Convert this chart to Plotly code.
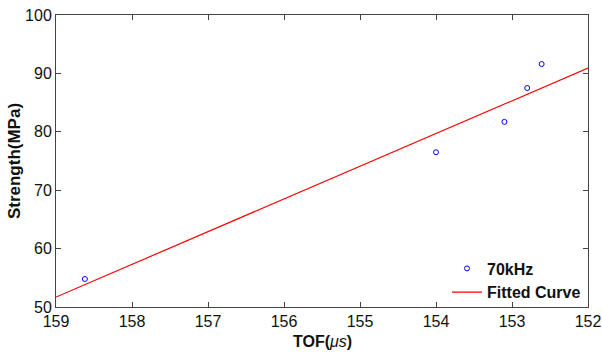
import plotly.graph_objects as go

# Measured data (70 kHz)
tof = [158.62, 154.0, 153.10, 152.80, 152.61]
strength = [54.8, 76.5, 81.7, 87.5, 91.6]

# Fitted line endpoints
fit_tof = [159, 152]
fit_strength = [51.7, 90.9]

x_ticks = [159, 158, 157, 156, 155, 154, 153, 152]
y_ticks = [50, 60, 70, 80, 90, 100]

FONT = "Liberation Sans, Arial, sans-serif"

fig = go.Figure()
fig.add_trace(go.Scatter(
    x=tof, y=strength, mode="markers", name="<b>70kHz</b>",
    marker=dict(symbol="circle-open", size=5, color="#0000ff", line=dict(width=1, color="#0000ff")),
))
fig.add_trace(go.Scatter(
    x=fit_tof, y=fit_strength, mode="lines", name="<b>Fitted Curve</b>",
    line=dict(color="#ff0000", width=1.2),
))

axis_common = dict(
    showgrid=False, zeroline=False, showline=True, linecolor="#444444", linewidth=1,
    mirror="ticks", ticks="inside", ticklen=5, tickcolor="#444444", automargin=False,
    tickfont=dict(family=FONT, size=16, color="#111111"),
)

fig.update_layout(
    width=602, height=354,
    margin=dict(l=56, r=14, t=15, b=47, autoexpand=False),
    paper_bgcolor="white", plot_bgcolor="white",
    xaxis=dict(range=[159, 152], tickvals=x_ticks, ticktext=[str(v) for v in x_ticks],
               **axis_common),
    yaxis=dict(range=[50, 100], tickvals=y_ticks, ticktext=[str(v) for v in y_ticks],
               title=dict(text="<b>Strength(MPa)</b>", standoff=0,
                          font=dict(family=FONT, size=17, color="#111111")),
               **axis_common),
    legend=dict(x=0.735, y=0.19, xanchor="left", yanchor="top", bgcolor="rgba(0,0,0,0)",
                borderwidth=0, font=dict(family=FONT, size=16, color="#111111"),
                tracegroupgap=0),
    showlegend=True,
    annotations=[dict(
        text="<b>TOF(</b><i>μs</i><b>)</b>", xref="paper", yref="paper",
        x=0.5, y=-0.082, xanchor="center", yanchor="top", showarrow=False,
        font=dict(family=FONT, size=16, color="#111111"),
    )],
)

fig.write_html("out.html")
